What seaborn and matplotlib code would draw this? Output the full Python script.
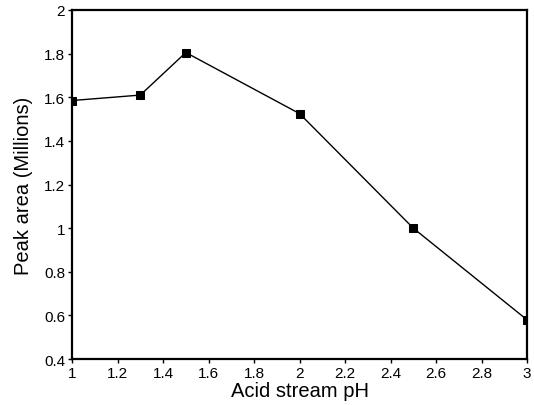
import matplotlib
matplotlib.use("Agg")
import matplotlib.pyplot as plt
import seaborn as sns
import pandas as pd

ph = [1.0, 1.3, 1.5, 2.0, 2.5, 3.0]
peak_area = [1.585, 1.61, 1.805, 1.525, 1.0, 0.58]
x_ticks = [1, 1.2, 1.4, 1.6, 1.8, 2, 2.2, 2.4, 2.6, 2.8, 3]
y_ticks = [0.4, 0.6, 0.8, 1, 1.2, 1.4, 1.6, 1.8, 2]

sns.set_style("white")
plt.rcParams['font.family'] = ['Liberation Sans', 'DejaVu Sans']

df = pd.DataFrame({"pH": ph, "area": peak_area})
fig = plt.figure(figsize=(5.34, 4.06), dpi=100)
ax = fig.add_axes([0.135, 0.113, 0.852, 0.86])
sns.lineplot(data=df, x="pH", y="area", ax=ax, color="black", linewidth=1.0,
             marker="s", markersize=6, markeredgecolor="black", markerfacecolor="black")
ax.set_xlim(1, 3)
ax.set_ylim(0.4, 2)
ax.set_xticks(x_ticks)
ax.set_xticklabels([f"{t:g}" for t in x_ticks])
ax.set_yticks(y_ticks)
ax.set_yticklabels([f"{t:g}" for t in y_ticks])
ax.tick_params(axis="both", direction="out", length=3, width=1, color="black",
               labelsize=11, labelcolor="black", pad=2, bottom=True, left=True)
for s in ax.spines.values():
    s.set_color("black")
    s.set_linewidth(1.6)
ax.set_xlabel("Acid stream pH", fontsize=14.5, labelpad=1, color="black")
ax.set_ylabel("Peak area (Millions)", fontsize=14.5, labelpad=8, color="black")
fig.savefig("out.png", dpi=100)
